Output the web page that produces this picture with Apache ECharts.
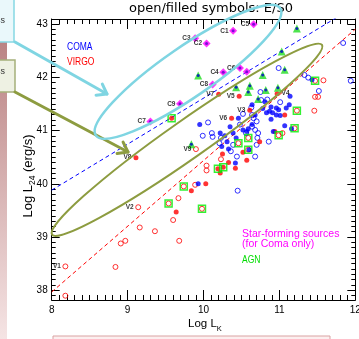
<!DOCTYPE html>
<html>
<head>
<meta charset="utf-8">
<script src="https://cdn.jsdelivr.net/npm/echarts@6.0.0/dist/echarts.min.js"></script>
<style>
html,body{margin:0;padding:0;background:#ffffff;overflow:hidden;}
#chart{width:359px;height:339px;}
</style>
</head>
<body>
<div id="chart"></div>
<script>
// ---------------- data (log units) ----------------
const yTickLabels = [38, 39, 40, 41, 42, 43];

const comaOpen = [
  [11.84,42.64],[10.99,42.17],[11.33,42.04],[11.38,41.99],[11.52,41.74],[11.94,41.93],
  [10.75,41.72],[10.76,41.57],[10.84,41.58],[11.01,41.53],[10.63,41.43],[10.52,41.31],
  [10.64,41.29],[10.66,41.23],[10.64,41.07],[10.72,40.95],[10.71,40.86],[10.86,40.79],
  [10.70,40.73],[10.68,40.51],[10.06,41.15],[9.99,40.90],[10.12,40.88],[10.23,40.86],
  [10.21,40.76],[10.48,41.11],[10.39,40.73],[10.36,40.61],[10.44,40.51],[10.45,39.87],
  [10.56,40.95],[10.11,40.95],[10.70,41.17],[10.68,41.01]
];
const comaFilled = [
  [11.14,41.64],[10.96,41.42],[11.09,41.42],[11.13,41.48],[10.87,41.36],[10.64,41.48],
  [10.89,41.44],[10.83,41.33],[10.91,41.33],[10.99,41.39],[11.01,41.28],[10.89,41.21],
  [11.07,41.09],[11.16,41.03],[10.59,41.03],[10.64,41.11],[10.92,40.98],[10.60,40.64],
  [9.95,41.11],[10.22,40.95],[10.28,40.90],[10.31,40.79],[10.39,40.95],[10.43,40.86],
  [10.52,41.01],[10.33,40.65],[10.35,41.07],[10.42,40.39],[9.93,40.00],[10.78,41.41],
  [10.68,41.29],[10.96,41.29],[11.43,41.95],[10.81,41.54],[10.57,40.98],[10.46,41.23],
  [10.24,40.70]
];
const virgoOpen = [
  [8.18,38.45],[8.18,37.90],[8.84,38.44],[8.91,38.88],[8.97,38.93],[9.16,39.18],
  [9.36,39.11],[9.60,39.32],[9.68,38.93],[9.14,39.56],[9.67,39.73],[9.89,39.98],
  [9.90,40.65],[10.04,40.34],[10.04,40.25],[10.23,40.46],[11.04,40.95],[11.46,41.37],
  [11.58,41.94],[11.51,41.63],[11.47,41.63],[11.47,41.93],[11.23,41.37],[11.20,41.04],
  [10.99,40.91],[10.59,40.86],[10.59,40.64],[10.46,40.76],[9.74,39.95],[9.98,39.53],
  [9.54,39.63]
];
const virgoFilled = [
  [9.11,40.49],[10.20,41.68],[10.47,41.64],[10.37,41.23],[10.97,41.69],[10.61,41.38],
  [11.07,41.29],[10.94,40.98],[10.74,40.79],[10.57,40.44],[10.52,40.59],[10.25,40.56],
  [10.33,40.40],[10.42,40.29],[10.22,40.20],[10.03,40.00],[9.84,39.87],[9.64,39.47],
  [9.58,41.23],[10.19,40.28],[10.26,40.31]
];
const agnComa = [
  [9.93,42.03],[10.78,42.04],[11.23,42.91],[11.03,42.48],[11.07,42.14],[10.43,41.81],
  [10.61,41.84],[10.59,41.72],[10.82,41.76],[10.98,41.80],[10.72,41.59],[9.84,40.74]
];
const agnVirgo = [
  [11.47,41.93],[11.23,41.37],[11.20,41.04],[10.99,40.91],[10.59,40.86],[10.59,40.64],
  [10.46,40.76],[10.19,40.28],[10.26,40.31],[9.74,39.95],[9.98,39.53],[9.54,39.63],
  [9.58,41.23]
];
const starForming = [
  [10.39,42.87],[10.04,42.63],[9.89,42.73],[10.26,42.09],[10.66,42.99],[10.48,42.17],
  [9.30,41.17],[10.12,41.86],[9.69,41.50],[10.57,42.10]
];
const starNames = ['C1','C2','C3','C4','C5','C6','C7','C8','C9',''];
const virgoLabelPts = [
  [8.18,38.45],[9.14,39.56],[10.61,41.38],[10.97,41.69],[10.47,41.64],
  [10.37,41.23],[10.20,41.68],[9.11,40.49],[9.90,40.65]
];
const virgoNames = ['V1','V2','V3','V4','V5','V6','V7','V8','V9'];
const blueFit = [[8, 39.88], [12, 43.33]];
const redFit = [[8, 37.97], [12, 42.90]];

// ---------------- chart ----------------
const FONT = 'Liberation Sans';
const chart = echarts.init(document.getElementById('chart'), null, {renderer: 'canvas'});

const yMinorTicks = [];
for (let v = 378; v <= 431; v++) yMinorTicks.push(v / 10);

const GRID = {left: 51.7, right: 3.7, top: 19, bottom: 39, outerBoundsMode: 'none', containLabel: false};
const black = {color: '#000', width: 1};

function mkX(pos, labels) {
  return {
    type: 'value', gridIndex: 0, position: pos, min: 8, max: 12, interval: 1,
    axisLine: {show: true, onZero: false, lineStyle: black},
    axisTick: {show: true, inside: true, length: 10, lineStyle: black},
    minorTick: {show: true, splitNumber: 10, length: 5, lineStyle: black},
    axisLabel: {show: labels, color: '#000', fontSize: 10, fontFamily: FONT, margin: 5},
    splitLine: {show: false}, minorSplitLine: {show: false}
  };
}
function mkYMajor(pos, labels) {
  return {
    type: 'value', gridIndex: 0, position: pos, min: 37.82, max: 43.09,
    axisLine: {show: true, onZero: false, lineStyle: black},
    axisTick: {show: true, inside: true, length: 8, lineStyle: black, customValues: yTickLabels},
    axisLabel: {show: labels, color: '#000', fontSize: 10, fontFamily: FONT, margin: 4, customValues: yTickLabels},
    splitLine: {show: false}
  };
}
function mkYMinor(pos) {
  return {
    type: 'value', gridIndex: 1, position: pos, min: 37.82, max: 43.09,
    axisLine: {show: false},
    axisTick: {show: true, inside: true, length: 4, lineStyle: black, customValues: yMinorTicks},
    axisLabel: {show: false},
    splitLine: {show: false}
  };
}
const openStyle = c => ({color: 'rgba(0,0,0,0)', borderColor: c, borderWidth: 1});
function scat(data, extra) {
  return Object.assign({type: 'scatter', xAxisIndex: 0, yAxisIndex: 0, data: data, silent: true,
    emphasis: {disabled: true}, symbol: 'circle', symbolSize: 5}, extra);
}
function labelSeries(points, names, sides) {
  return scat(points.map((p, i) => ({value: p, name: names[i], label: {position: sides[names[i]] || 'left'}})), {
    symbolSize: 1, itemStyle: {color: 'rgba(0,0,0,0)'}, z: 6,
    label: {show: true, formatter: '{b}', distance: 4, color: '#000', fontSize: 6.5, fontWeight: 'bold', fontFamily: FONT}
  });
}

const option = {
  animation: false,
  backgroundColor: '#ffffff',
  grid: [Object.assign({}, GRID), Object.assign({}, GRID)],
  xAxis: [mkX('bottom', true), mkX('top', false), {type: 'value', gridIndex: 1, min: 8, max: 12, show: false}],
  yAxis: [mkYMajor('left', true), mkYMajor('right', false), mkYMinor('left'), mkYMinor('right')],
  series: [
    {type: 'line', xAxisIndex: 0, yAxisIndex: 0, data: redFit, symbol: 'none', silent: true, clip: true,
      lineStyle: {color: '#ff0000', width: 1, type: [4, 3]}, z: 1},
    {type: 'line', xAxisIndex: 0, yAxisIndex: 0, data: blueFit, symbol: 'none', silent: true, clip: true,
      lineStyle: {color: '#0000ff', width: 1, type: [4, 3]}, z: 1},
    scat(virgoOpen, {itemStyle: openStyle('#ff0000')}),
    scat(comaOpen, {itemStyle: openStyle('#0000ff')}),
    scat(virgoFilled, {itemStyle: {color: '#ff0000'}}),
    scat(comaFilled, {itemStyle: {color: '#0000ff'}}),
    scat(agnVirgo, {symbol: 'rect', symbolSize: 7, itemStyle: {color: 'rgba(0,0,0,0)', borderColor: '#00ee00', borderWidth: 1.5}}),
    scat(agnComa, {symbol: 'triangle', symbolSize: 8, itemStyle: {color: '#22dd22'}}),
    scat(agnComa, {symbolSize: 3, itemStyle: {color: '#0000cc'}}),
    scat(starForming, {symbol: 'diamond', symbolSize: 8, itemStyle: {color: '#ff00ff'}}),
    scat(starForming, {symbolSize: 3, itemStyle: {color: '#5a00d0'}}),
    labelSeries(starForming, starNames, {}),
    labelSeries(virgoLabelPts, virgoNames, {V4: 'right'})
  ]
};
chart.setOption(option);

// ---------------- annotations ----------------
const ctx = document.createElement('canvas').getContext('2d');
function tw(t, size, fam) { ctx.font = size + 'px "' + fam + '"'; return ctx.measureText(t).width; }
const px = p => chart.convertToPixel({gridIndex: 0}, p);

function arrow(from, to, color, w, head, spread) {
  const ang = Math.atan2(to[1] - from[1], to[0] - from[0]) + Math.PI;
  const w1 = [to[0] + head * Math.cos(ang - spread), to[1] + head * Math.sin(ang - spread)];
  const w2 = [to[0] + head * Math.cos(ang + spread), to[1] + head * Math.sin(ang + spread)];
  const st = {stroke: color, lineWidth: w, fill: null, lineCap: 'round', lineJoin: 'round'};
  return [
    {type: 'polyline', z: 100, shape: {points: [from, to]}, style: st},
    {type: 'polyline', z: 100, shape: {points: [w1, to, w2]}, style: st}
  ];
}
function ellipse(centerData, rx, ry, deg, color, w) {
  const c = px(centerData);
  return {type: 'ellipse', z: 100, x: c[0], y: c[1], rotation: deg * Math.PI / 180,
    shape: {cx: 0, cy: 0, rx: rx, ry: ry}, style: {fill: null, stroke: color, lineWidth: w}};
}

const yt1 = 'Log L', yt2 = '24', yt3 = ' (erg/s)';
const ys1 = 13, ys2 = 8.5;
const yw1 = tw(yt1, ys1, FONT), yw2 = tw(yt2, ys2, FONT), yw3 = tw(yt3, ys1, FONT);
const ytot = yw1 + yw2 + yw3;
const xw1 = tw('Log L', 11.5, FONT);
const narrow = (x, y, text, color) => ({type: 'text', z: 60, x: x, y: y, scaleX: 0.85,
  style: {text: text, fill: color, font: '10px "' + FONT + '"', align: 'left', verticalAlign: 'middle'}});

const graphics = [
  {type: 'rect', z: 50, shape: {x: 0, y: 0, width: 7, height: 339},
    style: {fill: new echarts.graphic.LinearGradient(0, 0, 0, 1, [{offset: 0, color: '#b27676'}, {offset: 1, color: '#f5e4e4'}])}},
  {type: 'rect', z: 51, shape: {x: -3, y: -3, width: 17, height: 45}, style: {fill: '#eaf8fb', stroke: '#86d7e4', lineWidth: 1.5}},
  {type: 'text', z: 52, x: 5, y: 21, style: {text: 'ss', fill: '#333', font: '9px "Liberation Sans"', align: 'right', verticalAlign: 'middle'}},
  {type: 'rect', z: 51, shape: {x: -3, y: 60, width: 18, height: 32}, style: {fill: '#eef1e3', stroke: '#a5b07b', lineWidth: 1.5}},
  {type: 'text', z: 52, x: 5, y: 72, style: {text: 'ss', fill: '#333', font: '9px "Liberation Sans"', align: 'right', verticalAlign: 'middle'}},
  {type: 'rect', z: 51, shape: {x: 53, y: 336, width: 277, height: 12}, style: {fill: '#fcefef', stroke: '#d9a3a3', lineWidth: 1}},
  ...arrow([15, 42], [107, 94], '#7fd5e2', 3, 11, 0.62),
  ...arrow([15, 92], [128, 152], '#8d9c40', 3, 11, 0.62),
  ellipse([9.796, 42.10], 112, 25, 34.6, '#7fd5e2', 2.5),
  ellipse([9.783, 40.825], 165, 19, 35.1, '#8d9c40', 2),
  {type: 'text', z: 60, x: 211, y: 9, style: {text: 'open/filled symbols: E/S0', fill: '#000', font: '13px "DejaVu Sans"', align: 'center', verticalAlign: 'middle'}},
  {type: 'group', z: 60, x: 28.5, y: 176, rotation: Math.PI / 2, children: [
    {type: 'text', x: -ytot / 2, y: 0, style: {text: yt1, fill: '#000', font: ys1 + 'px "' + FONT + '"', align: 'left', verticalAlign: 'middle'}},
    {type: 'text', x: -ytot / 2 + yw1, y: 4, style: {text: yt2, fill: '#000', font: ys2 + 'px "' + FONT + '"', align: 'left', verticalAlign: 'middle'}},
    {type: 'text', x: -ytot / 2 + yw1 + yw2, y: 0, style: {text: yt3, fill: '#000', font: ys1 + 'px "' + FONT + '"', align: 'left', verticalAlign: 'middle'}}
  ]},
  {type: 'text', z: 60, x: 188, y: 324, style: {text: 'Log L', fill: '#000', font: '11.5px "' + FONT + '"', align: 'left', verticalAlign: 'middle'}},
  {type: 'text', z: 60, x: 188 + xw1, y: 329, style: {text: 'K', fill: '#000', font: '7.5px "' + FONT + '"', align: 'left', verticalAlign: 'middle'}},
  narrow(67, 47, 'COMA', '#0000ff'),
  narrow(67, 62, 'VIRGO', '#ff0000'),
  {type: 'text', z: 60, x: 242, y: 234, style: {text: 'Star-forming sources', fill: '#ff00ff', font: '10.5px "' + FONT + '"', align: 'left', verticalAlign: 'middle'}},
  {type: 'text', z: 60, x: 242, y: 244, style: {text: '(for Coma only)', fill: '#ff00ff', font: '10.5px "' + FONT + '"', align: 'left', verticalAlign: 'middle'}},
  narrow(242, 260, 'AGN', '#00dd00')
];
chart.setOption({graphic: {elements: graphics}});
</script>
</body>
</html>
